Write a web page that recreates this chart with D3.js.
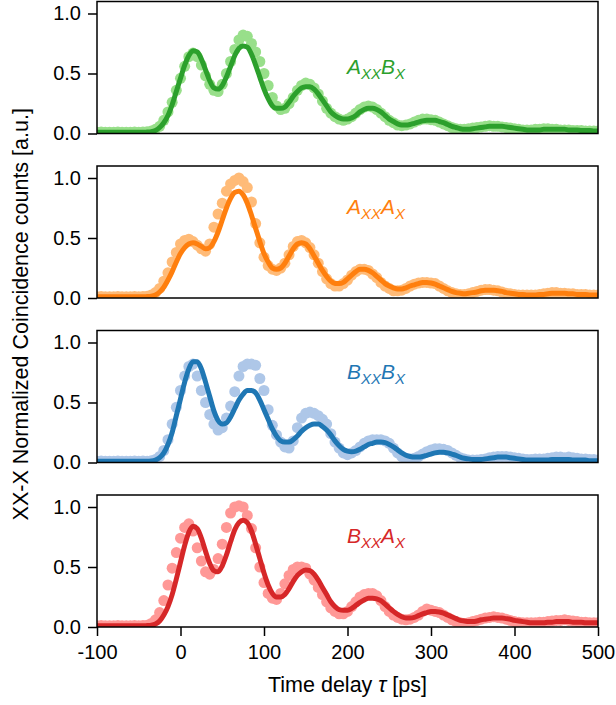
<!DOCTYPE html>
<html>
<head>
<meta charset="utf-8">
<script src="https://cdn.jsdelivr.net/npm/d3@7"></script>
<style>
  body { margin: 0; background: #fff; }
  text { font-family: "Liberation Sans", Arial, sans-serif; }
</style>
</head>
<body>
<svg id="chart" width="616" height="705"></svg>
<script>
// time grid of the measurement, ps
const times = d3.range(-100, 505, 5);

const xTicks = [-100, 0, 100, 200, 300, 400, 500];
const yTicks = [0, 0.5, 1.0];

// panel labels: [first letter, second letter], subscripts XX and X
const labelLetters = [["A", "B"], ["A", "A"], ["B", "B"], ["B", "A"]];
const labelHeights = [0.5, 0.7, 0.7, 0.7];

const lineColors = ["#2ca02c", "#ff7f0e", "#1f77b4", "#d62728"];
const pointColors = ["#98df8a", "#ffbb78", "#aec7e8", "#ff9896"];

// A_XX B_X
const abPoints = [
  0.01, 0.012, 0.01, 0.011, 0.01, 0.012, 0.01, 0.011, 0.01, 0.012,
  0.01, 0.012, 0.015, 0.02, 0.035, 0.06, 0.11, 0.18, 0.26, 0.36,
  0.46, 0.56, 0.64, 0.67, 0.64, 0.57, 0.48, 0.41, 0.36, 0.35,
  0.41, 0.50, 0.60, 0.70, 0.78, 0.82, 0.81, 0.75, 0.68, 0.60,
  0.50, 0.40, 0.30, 0.23, 0.20, 0.21, 0.25, 0.30, 0.36, 0.40,
  0.42, 0.41, 0.38, 0.33, 0.27, 0.21, 0.17, 0.14, 0.12, 0.11,
  0.12, 0.14, 0.17, 0.20, 0.22, 0.23, 0.22, 0.20, 0.17, 0.14,
  0.11, 0.09, 0.07, 0.065, 0.07, 0.08, 0.095, 0.11, 0.12, 0.12,
  0.115, 0.11, 0.095, 0.08, 0.065, 0.05, 0.04, 0.035, 0.035, 0.04,
  0.045, 0.05, 0.055, 0.06, 0.065, 0.06, 0.06, 0.055, 0.05, 0.045,
  0.04, 0.035, 0.03, 0.03, 0.03, 0.035, 0.035, 0.04, 0.04, 0.035,
  0.035, 0.03, 0.03, 0.03, 0.025, 0.025, 0.025, 0.02, 0.02, 0.02,
  0.02
];
const abFit = [
  0.01, 0.01, 0.01, 0.01, 0.01, 0.01, 0.01, 0.01, 0.01, 0.01,
  0.01, 0.01, 0.012, 0.015, 0.025, 0.05, 0.09, 0.15, 0.24, 0.35,
  0.46, 0.57, 0.65, 0.69, 0.68, 0.62, 0.53, 0.44, 0.38, 0.37,
  0.40, 0.47, 0.56, 0.65, 0.71, 0.73, 0.72, 0.66, 0.57, 0.47,
  0.37, 0.29, 0.23, 0.21, 0.21, 0.22, 0.26, 0.31, 0.35, 0.38,
  0.39, 0.39, 0.37, 0.33, 0.28, 0.23, 0.18, 0.15, 0.13, 0.12,
  0.12, 0.13, 0.15, 0.18, 0.20, 0.21, 0.21, 0.20, 0.18, 0.15,
  0.12, 0.10, 0.08, 0.07, 0.07, 0.075, 0.085, 0.095, 0.105, 0.11,
  0.11, 0.11, 0.10, 0.09, 0.075, 0.06, 0.05, 0.04, 0.035, 0.035,
  0.04, 0.045, 0.05, 0.055, 0.06, 0.06, 0.06, 0.06, 0.055, 0.05,
  0.045, 0.04, 0.035, 0.03, 0.03, 0.03, 0.03, 0.035, 0.035, 0.035,
  0.035, 0.035, 0.035, 0.03, 0.03, 0.03, 0.025, 0.025, 0.025, 0.02,
  0.02
];

// A_XX A_X
const aaPoints = [
  0.01, 0.012, 0.01, 0.011, 0.01, 0.012, 0.01, 0.011, 0.01, 0.012,
  0.01, 0.012, 0.015, 0.025, 0.045, 0.08, 0.14, 0.21, 0.30, 0.38,
  0.45, 0.48, 0.49, 0.47, 0.44, 0.41, 0.39, 0.45, 0.59, 0.70,
  0.79, 0.89, 0.95, 0.98, 1.0, 0.97, 0.92, 0.80, 0.62, 0.46,
  0.34, 0.27, 0.24, 0.23, 0.25, 0.29, 0.36, 0.43, 0.47, 0.48,
  0.46, 0.42, 0.36, 0.29, 0.22, 0.16, 0.12, 0.10, 0.10, 0.12,
  0.15, 0.19, 0.22, 0.24, 0.24, 0.23, 0.20, 0.17, 0.13, 0.10,
  0.08, 0.06, 0.06, 0.065, 0.08, 0.10, 0.115, 0.125, 0.13, 0.13,
  0.125, 0.12, 0.10, 0.08, 0.06, 0.045, 0.035, 0.03, 0.03, 0.035,
  0.045, 0.055, 0.065, 0.07, 0.07, 0.065, 0.06, 0.05, 0.04, 0.035,
  0.03, 0.025, 0.025, 0.025, 0.025, 0.025, 0.03, 0.035, 0.04, 0.045,
  0.045, 0.04, 0.04, 0.035, 0.035, 0.03, 0.03, 0.03, 0.025, 0.025,
  0.025
];
const aaFit = [
  0.01, 0.01, 0.01, 0.01, 0.01, 0.01, 0.01, 0.01, 0.01, 0.01,
  0.01, 0.01, 0.012, 0.015, 0.025, 0.05, 0.09, 0.15, 0.22, 0.30,
  0.37, 0.42, 0.45, 0.46, 0.45, 0.43, 0.41, 0.42, 0.47, 0.55,
  0.65, 0.75, 0.83, 0.88, 0.89, 0.86, 0.79, 0.69, 0.58, 0.47,
  0.37, 0.30, 0.25, 0.24, 0.25, 0.29, 0.35, 0.41, 0.45, 0.46,
  0.45, 0.41, 0.35, 0.29, 0.23, 0.18, 0.14, 0.12, 0.12, 0.13,
  0.16, 0.19, 0.22, 0.24, 0.24, 0.23, 0.21, 0.18, 0.15, 0.12,
  0.10, 0.085, 0.075, 0.075, 0.085, 0.10, 0.11, 0.12, 0.13, 0.13,
  0.125, 0.115, 0.10, 0.085, 0.07, 0.055, 0.045, 0.04, 0.035, 0.04,
  0.045, 0.05, 0.06, 0.065, 0.065, 0.065, 0.06, 0.055, 0.045, 0.04,
  0.035, 0.03, 0.03, 0.025, 0.025, 0.025, 0.03, 0.03, 0.035, 0.04,
  0.04, 0.04, 0.04, 0.035, 0.035, 0.03, 0.03, 0.03, 0.025, 0.025,
  0.025
];

// B_XX B_X
const bbPoints = [
  0.01, 0.012, 0.01, 0.011, 0.01, 0.012, 0.01, 0.011, 0.01, 0.012,
  0.01, 0.012, 0.01, 0.015, 0.025, 0.05, 0.10, 0.19, 0.32, 0.46,
  0.60, 0.72, 0.80, 0.82, 0.72, 0.60, 0.50, 0.40, 0.32, 0.27,
  0.29, 0.37, 0.47, 0.59, 0.72, 0.80, 0.82, 0.82, 0.81, 0.70,
  0.60, 0.44, 0.31, 0.23, 0.17, 0.13, 0.12, 0.18, 0.29, 0.37,
  0.41, 0.42, 0.41, 0.39, 0.36, 0.32, 0.24, 0.17, 0.12, 0.08,
  0.065, 0.08, 0.10, 0.13, 0.16, 0.18, 0.19, 0.19, 0.19, 0.18,
  0.16, 0.12, 0.08, 0.05, 0.035, 0.03, 0.035, 0.05, 0.07, 0.09,
  0.105, 0.115, 0.115, 0.11, 0.10, 0.08, 0.06, 0.04, 0.03, 0.02,
  0.02, 0.02, 0.025, 0.03, 0.04, 0.045, 0.05, 0.05, 0.05, 0.045,
  0.04, 0.035, 0.03, 0.025, 0.025, 0.03, 0.03, 0.03, 0.035, 0.04,
  0.045, 0.045, 0.04, 0.045, 0.04, 0.035, 0.03, 0.03, 0.025, 0.025,
  0.02
];
const bbFit = [
  0.01, 0.01, 0.01, 0.01, 0.01, 0.01, 0.01, 0.01, 0.01, 0.01,
  0.01, 0.01, 0.01, 0.012, 0.02, 0.04, 0.08, 0.15, 0.25, 0.39,
  0.53, 0.67, 0.78, 0.84, 0.84, 0.78, 0.67, 0.55, 0.43, 0.35,
  0.32, 0.33, 0.38, 0.45, 0.52, 0.57, 0.60, 0.60, 0.58, 0.52,
  0.44, 0.36, 0.28, 0.22, 0.18, 0.17, 0.17, 0.19, 0.22, 0.26,
  0.29, 0.31, 0.32, 0.32, 0.30, 0.27, 0.23, 0.18, 0.14, 0.11,
  0.095, 0.09, 0.095, 0.11, 0.13, 0.15, 0.16, 0.17, 0.17, 0.165,
  0.15, 0.13, 0.105, 0.08, 0.06, 0.05, 0.045, 0.045, 0.05, 0.06,
  0.07, 0.08, 0.085, 0.085, 0.08, 0.07, 0.06, 0.045, 0.035, 0.03,
  0.025, 0.025, 0.025, 0.03, 0.035, 0.04, 0.045, 0.045, 0.045, 0.04,
  0.035, 0.03, 0.025, 0.02, 0.02, 0.02, 0.02, 0.02, 0.02, 0.025,
  0.025, 0.025, 0.025, 0.025, 0.02, 0.02, 0.02, 0.02, 0.015, 0.015,
  0.015
];

// B_XX A_X
const baPoints = [
  0.01, 0.012, 0.01, 0.011, 0.01, 0.012, 0.01, 0.011, 0.01, 0.012,
  0.01, 0.012, 0.015, 0.03, 0.06, 0.12, 0.22, 0.35, 0.49, 0.62,
  0.74, 0.83, 0.86, 0.80, 0.66, 0.55, 0.46, 0.44, 0.48, 0.57,
  0.69, 0.83, 0.95, 1.0, 1.01, 1.0, 0.93, 0.82, 0.66, 0.50,
  0.37, 0.28, 0.24, 0.23, 0.28, 0.36, 0.43, 0.48, 0.50, 0.50,
  0.49, 0.44, 0.39, 0.33, 0.27, 0.21, 0.16, 0.13, 0.11, 0.11,
  0.13, 0.17, 0.21, 0.25, 0.27, 0.28, 0.28, 0.26, 0.22, 0.17,
  0.13, 0.10, 0.08, 0.065, 0.06, 0.065, 0.08, 0.10, 0.13, 0.15,
  0.14, 0.13, 0.12, 0.10, 0.08, 0.06, 0.045, 0.035, 0.03, 0.035,
  0.045, 0.055, 0.065, 0.075, 0.08, 0.085, 0.08, 0.075, 0.065, 0.055,
  0.045, 0.04, 0.035, 0.035, 0.035, 0.035, 0.04, 0.04, 0.045, 0.05,
  0.055, 0.055, 0.06, 0.055, 0.05, 0.045, 0.04, 0.04, 0.035, 0.035,
  0.035
];
const baFit = [
  0.01, 0.01, 0.01, 0.01, 0.01, 0.01, 0.01, 0.01, 0.01, 0.01,
  0.01, 0.01, 0.012, 0.015, 0.025, 0.05, 0.10, 0.17, 0.27, 0.40,
  0.54, 0.68, 0.79, 0.84, 0.82, 0.74, 0.63, 0.53, 0.47, 0.46,
  0.51, 0.60, 0.71, 0.81, 0.87, 0.89, 0.87, 0.80, 0.69, 0.57,
  0.45, 0.35, 0.28, 0.25, 0.25, 0.27, 0.32, 0.38, 0.43, 0.46,
  0.475, 0.47, 0.44, 0.39, 0.33, 0.27, 0.21, 0.17, 0.145, 0.14,
  0.14, 0.155, 0.18, 0.205, 0.225, 0.24, 0.24, 0.235, 0.22, 0.19,
  0.16, 0.13, 0.105, 0.085, 0.075, 0.075, 0.08, 0.095, 0.11, 0.12,
  0.13, 0.13, 0.125, 0.115, 0.10, 0.085, 0.07, 0.055, 0.05, 0.045,
  0.045, 0.05, 0.06, 0.065, 0.07, 0.075, 0.075, 0.075, 0.07, 0.065,
  0.055, 0.05, 0.045, 0.04, 0.035, 0.035, 0.035, 0.035, 0.04, 0.04,
  0.045, 0.045, 0.045, 0.045, 0.04, 0.04, 0.04, 0.035, 0.035, 0.035,
  0.035
];

const pointSeries = [abPoints, aaPoints, bbPoints, baPoints];
const fitSeries = [abFit, aaFit, bbFit, baFit];

pointSeries.concat(fitSeries).forEach((s, i) => {
  if (s.length !== times.length) throw new Error("series " + i + " has " + s.length + " values");
});

const svg = d3.select("#chart");

const left = 97, right = 598;
const panelHeight = 132;
const panelStep = 164.5;
const firstTop = 1.5;

const x = d3.scaleLinear().domain([-100, 500]).range([left, right]);
const y = d3.scaleLinear().domain([0, 1.1]).range([panelHeight, 0]);

const line = d3.line()
  .x((d, i) => x(times[i]))
  .y(d => y(d))
  .curve(d3.curveMonotoneX);

pointSeries.forEach((points, p) => {
  const top = firstTop + p * panelStep;
  const g = svg.append("g").attr("transform", "translate(0," + top + ")");

  svg.append("clipPath")
    .attr("id", "clip" + p)
    .append("rect")
      .attr("x", left)
      .attr("y", 0)
      .attr("width", right - left)
      .attr("height", panelHeight);

  const plot = g.append("g").attr("clip-path", "url(#clip" + p + ")");

  plot.selectAll("circle")
    .data(points)
    .join("circle")
      .attr("cx", (d, i) => x(times[i]))
      .attr("cy", d => y(d))
      .attr("r", 5.5)
      .attr("fill", pointColors[p]);

  plot.append("path")
    .datum(fitSeries[p])
    .attr("fill", "none")
    .attr("stroke", lineColors[p])
    .attr("stroke-width", 5)
    .attr("d", line);

  // label, e.g. A_XX B_X
  const lab = g.append("text")
    .attr("x", 347)
    .attr("y", y(labelHeights[p]))
    .attr("fill", lineColors[p])
    .attr("font-style", "italic")
    .attr("font-size", 21);
  lab.append("tspan").text(labelLetters[p][0]);
  lab.append("tspan").attr("dy", 5).attr("font-size", 15).text("XX");
  lab.append("tspan").attr("dy", -5).text(labelLetters[p][1]);
  lab.append("tspan").attr("dy", 5).attr("font-size", 15).text("X");

  const yAxis = g.append("g")
    .attr("transform", "translate(" + left + ",0)")
    .call(d3.axisLeft(y).tickValues(yTicks).tickFormat(d3.format(".1f")).tickSize(9).tickPadding(7));
  yAxis.select(".domain").remove();
  yAxis.selectAll(".tick line").attr("stroke-width", 1.5);
  yAxis.selectAll("text").attr("font-size", 20).attr("fill", "#000");

  if (p === pointSeries.length - 1) {
    const xAxis = g.append("g")
      .attr("transform", "translate(0," + panelHeight + ")")
      .call(d3.axisBottom(x).tickValues(xTicks).tickFormat(d => String(d)).tickSize(9).tickPadding(9));
    xAxis.select(".domain").remove();
    xAxis.selectAll(".tick line").attr("stroke-width", 1.5);
    xAxis.selectAll("text").attr("font-size", 20).attr("fill", "#000");
  }

  g.append("rect")
    .attr("x", left)
    .attr("y", 0)
    .attr("width", right - left)
    .attr("height", panelHeight)
    .attr("fill", "none")
    .attr("stroke", "#000")
    .attr("stroke-width", 1.5);
});

const xLabel = svg.append("text")
  .attr("x", (left + right) / 2)
  .attr("y", 692)
  .attr("text-anchor", "middle")
  .attr("font-size", 21.5);
xLabel.append("tspan").text("Time delay ");
xLabel.append("tspan").attr("font-style", "italic").text("\u03c4");
xLabel.append("tspan").text(" [ps]");

svg.append("text")
  .attr("transform", "translate(28," + (firstTop + (3 * panelStep + panelHeight) / 2) + ") rotate(-90)")
  .attr("text-anchor", "middle")
  .attr("font-size", 21.5)
  .text("XX-X Normalized Coincidence counts [a.u.]");
</script>
</body>
</html>
